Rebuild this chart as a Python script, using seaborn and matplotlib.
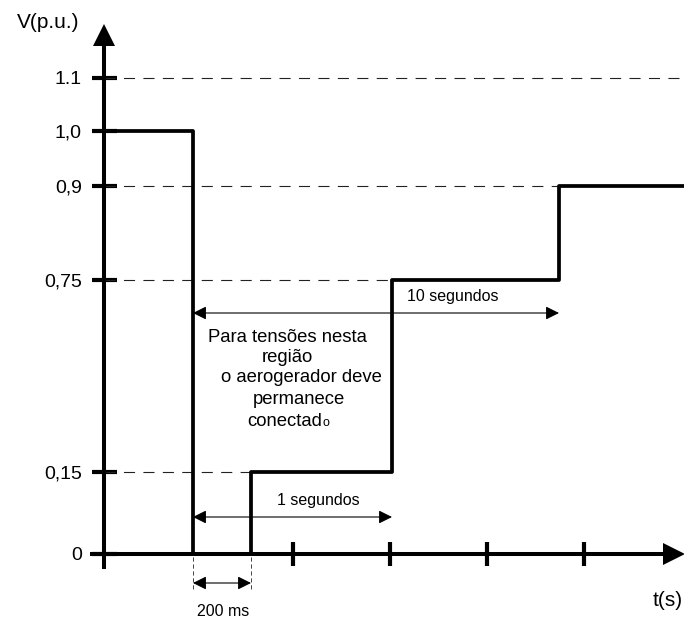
import numpy as np
import matplotlib
matplotlib.use("Agg")
import matplotlib.pyplot as plt
import matplotlib.transforms as mtransforms
import seaborn as sns

sns.set_theme(style="white")
plt.rcParams["font.family"] = ["Liberation Sans", "DejaVu Sans"]
plt.rcParams["lines.scale_dashes"] = False

# --- data -------------------------------------------------------------
STEP_TIMES = [0.0, 0.2, 1.0, 10.0]            # s, instants where the limit changes
STEP_LEVELS = [1.0, 0.0, 0.15, 0.75, 0.9]     # p.u., level before/after each step
REF_LEVELS = [1.1, 0.9, 0.75, 0.15]           # dashed guide levels
YTICK_VALUES = [0, 0.15, 0.75, 0.9, 1.0, 1.1]
YTICK_LABELS = ["0", "0,15", "0,75", "0,9", "1,0", "1.1"]
SPAN_LABELS = ["200 ms", "1 segundos", "10 segundos"]
SPAN_ENDS = [0.2, 1.0, 10.0]
REGION_TEXT = ["Para tensões nesta", "região", "o aerogerador deve", "permanece"]

# --- schematic (non-linear) axes: value -> pixel ----------------------
W, H = 684, 619
T_ORIGIN = -0.3
X_KNOTS_T = [T_ORIGIN, 0.0, 0.2, 1.0, 10.0]
X_KNOTS_PX = [104, 193, 251, 392, 559]
Y_KNOTS_V = [0.0, 0.15, 0.75, 0.9, 1.0, 1.1]
Y_KNOTS_PX = [H - p for p in (554, 472, 280, 186, 131, 78)]


def piecewise(xs, ys):
    xs = np.asarray(xs, float)
    ys = np.asarray(ys, float)
    lo = (ys[1] - ys[0]) / (xs[1] - xs[0])
    hi = (ys[-1] - ys[-2]) / (xs[-1] - xs[-2])

    def f(v):
        v = np.asarray(v, float)
        out = np.interp(v, xs, ys)
        out = np.where(v < xs[0], ys[0] + (v - xs[0]) * lo, out)
        out = np.where(v > xs[-1], ys[-1] + (v - xs[-1]) * hi, out)
        return out
    return f


fx, ix = piecewise(X_KNOTS_T, X_KNOTS_PX), piecewise(X_KNOTS_PX, X_KNOTS_T)
fy, iy = piecewise(Y_KNOTS_V, Y_KNOTS_PX), piecewise(Y_KNOTS_PX, Y_KNOTS_V)

fig = plt.figure(figsize=(W / 100, H / 100), dpi=100, facecolor="white")
ax = fig.add_axes([0, 0, 1, 1])
ax.set_facecolor("white")
ax.set_xscale("function", functions=(fx, ix))
ax.set_yscale("function", functions=(fy, iy))

# top-left origin pixel transform for layout items
TOP = mtransforms.Affine2D().scale(1 / W, -1 / H).translate(0, 1) + fig.transFigure
XDATA_YPX = mtransforms.blended_transform_factory(ax.transData, TOP)

t_end = float(ix(W))
t = [T_ORIGIN] + STEP_TIMES + [t_end]
v = STEP_LEVELS + [STEP_LEVELS[-1]]

# dashed guides
guide_ends = [t_end, 10.0, 1.0, 0.2]
for lvl, te in zip(REF_LEVELS, guide_ends):
    ax.plot([T_ORIGIN, te], [lvl, lvl], color="#222222", lw=0.8,
            linestyle=(0, (8, 6)), zorder=1)

# voltage limit curve
sns.lineplot(x=t, y=v, drawstyle="steps-post", color="black", linewidth=2.7,
             estimator=None, sort=False, ax=ax, zorder=4)

# axes as spines with inout ticks
for side in ("top", "right"):
    ax.spines[side].set_visible(False)
ax.spines["left"].set_position(("data", T_ORIGIN))
ax.spines["bottom"].set_position(("data", 0))
for side in ("left", "bottom"):
    ax.spines[side].set_color("black")
    ax.spines[side].set_linewidth(2.9)
    ax.spines[side].set_zorder(5)
ax.spines["left"].set_bounds(float(iy(H - 567)), float(iy(H - 47)))
ax.spines["bottom"].set_bounds(float(ix(92)), float(ix(663)))

ax.set_yticks(YTICK_VALUES)
ax.set_yticklabels(YTICK_LABELS)
ax.set_xticks([float(ix(p)) for p in (293, 390, 487, 584)])
ax.set_xticklabels([])
ax.tick_params(axis="y", direction="inout", length=18, width=3.0, pad=7,
               labelsize=14, colors="black", left=True)
ax.tick_params(axis="x", direction="inout", length=17, width=3.0,
               colors="black", bottom=True)
ax.minorticks_off()

# arrow heads of the axes
ax.plot([104], [35], marker="^", ms=16, color="black", mew=0, transform=TOP, zorder=6)
ax.plot([673.5], [554], marker=">", ms=16, color="black", mew=0, transform=TOP, zorder=6)

# time spans
span_y = [583, 517, 313]
label_pos = [(223, 611), (318, 500), (453, 297)]
for lab, te, yy, (lx, ly) in zip(SPAN_LABELS, SPAN_ENDS, span_y, label_pos):
    ax.annotate("", xy=(te, yy), xytext=(0.0, yy), xycoords=XDATA_YPX,
                textcoords=XDATA_YPX,
                arrowprops=dict(arrowstyle="<|-|>", color="black", lw=0.8,
                                mutation_scale=20, shrinkA=0, shrinkB=0))
    ax.text(lx, ly, lab, transform=TOP, ha="center", va="center",
            fontsize=11.5, color="black")

for tt in STEP_TIMES[:2]:
    ax.plot([tt, tt], [557, 590], transform=XDATA_YPX, color="#444444",
            lw=0.7, linestyle=(0, (3, 2)))

# region text
region_pos = [(287, 337), (287, 357), (301, 378), (299, 399)]
for line, (lx, ly) in zip(REGION_TEXT, region_pos):
    ax.text(lx, ly, line, transform=TOP, ha="center", va="center",
            fontsize=13.3, color="black")
last = ax.text(247, 421, "conectad", transform=TOP, ha="left", va="center",
               fontsize=13.3, color="black")
ax.annotate("o", xy=(1, 0), xycoords=last, ha="left", va="bottom",
            xytext=(0.5, 0.5), textcoords="offset points", fontsize=9,
            color="black")

# axis labels
ax.text(48, 22, "V(p.u.)", transform=TOP, ha="center", va="center",
        fontsize=15, color="black")
ax.text(683, 600, "t(s)", transform=TOP, ha="right", va="center",
        fontsize=15, color="black")

ax.set_xlim(float(ix(0)), float(ix(W)))
ax.set_ylim(float(iy(0)), float(iy(H)))
ax.set_xlabel("")
ax.set_ylabel("")

fig.savefig("out.png", dpi=100, facecolor="white")
